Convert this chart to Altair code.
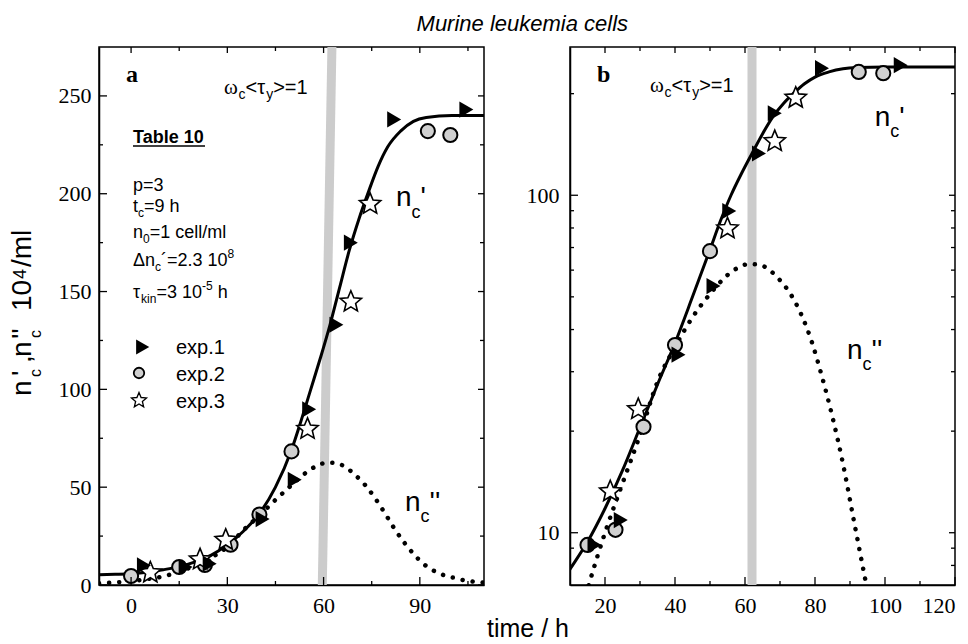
import math
import altair as alt
import pandas as pd

# ---------------- data ----------------
exp1_t = [4, 17, 24.5, 41, 51, 55.5, 64, 68.5, 82, 104.5]
exp1_n = [10, 9.2, 10.9, 33.7, 53.8, 89.8, 133, 175, 238, 243]
exp2_t = [0, 15, 23, 31, 40, 50, 92.5, 99.5]
exp2_n = [4.6, 9.2, 10.2, 20.6, 36, 68.3, 232, 230]
exp3_t = [6, 21.5, 29.5, 55, 68.5, 74.5]
exp3_n = [6.6, 13.3, 23.3, 80, 145, 195]

# n_c' (solid curve)
fit_t = [-10, -5, 0, 5, 10, 15, 20, 25, 30, 35, 40, 45, 50, 53, 56, 59, 62, 65,
         68, 71, 74, 77, 80, 84, 88, 92, 100, 110, 120]
fit_n = [5.3, 5.5, 5.8, 6.5, 7.8, 9.4, 11.8, 15.3, 20.5, 27.5, 36.5, 50, 69, 84,
         100, 116, 133, 152, 171, 187, 201, 214, 224, 232, 237, 239, 240, 240, 240]

# n_c'' (dotted curve)
dot_t = [-10, -5, 0, 5, 10, 15, 20, 25, 30, 35, 40, 45, 50, 55, 58, 61, 64, 67,
         70, 73, 76, 79, 82, 85, 88, 91, 94, 97, 100, 103, 106, 110]
dot_n = [0.9, 1.3, 2.0, 3.0, 4.4, 6.8, 10, 14, 19.5, 28, 35.5, 43.5, 51, 58, 61,
         62.5, 62.3, 60, 56, 51, 44.5, 37, 29, 22, 16, 11, 7.6, 5.3, 3.9, 2.7, 1.9, 1.2]

# omega_c <tau_y> = 1 boundary
band_a_t = [59.6, 62.6]
band_a_n = [0, 275]
band_b_t = [62]

# axis ticks / labels
xa_labels = [0, 30, 60, 90]
xa_minor = [15, 45, 75, 105]
ya_labels = [0, 50, 100, 150, 200, 250]
ya_minor = [25, 75, 125, 175, 225]
xb_labels = [20, 40, 60, 80, 100, 120]
xb_minor = [30, 50, 70, 90, 110]
yb_labels = [10, 100]
yb_minor = [8, 9, 20, 30, 40, 50, 60, 70, 80, 90, 200]

W, H = 385, 538
SANS = "Liberation Sans"
SERIF = "Liberation Serif"
DUMMY = pd.DataFrame({"d": [0]})

# five-pointed star symbol (unit box)
_pts = []
for k in range(10):
    a = math.radians(-90 + 36 * k)
    r = 1.0 if k % 2 == 0 else 0.45
    _pts.append(f"{r * math.cos(a):.3f} {r * math.sin(a) + 0.05:.3f}")
STAR = "M " + " L ".join(_pts) + " Z"

def df(t, n):
    return pd.DataFrame({"t": t, "n": n})

# ---------------- text helpers ----------------
AW = {' ': 278, "'": 191, ',': 278, '-': 333, '.': 278, '/': 278, '<': 584,
      '=': 584, '>': 584, 'a': 556, 'b': 556, 'c': 500, 'e': 556, 'h': 556,
      'i': 222, 'k': 500, 'l': 222, 'm': 833, 'n': 556, 'p': 556, 'r': 333,
      's': 500, 't': 278, 'u': 556, 'x': 500, 'y': 500, 'T': 611, 'M': 833,
      'Δ': 668, 'τ': 450, 'ω': 690, '´': 333}
BW = {'T': 611, 'l': 278, 'b': 611}

def tw(s, size, bold=False):
    tot = 0
    for ch in s:
        if ch.isdigit():
            tot += 556
        elif bold and ch in BW:
            tot += BW[ch]
        else:
            tot += AW.get(ch, 556)
    return tot * size / 1000.0

FAMS = {"s": (SANS, "normal", "normal"), "sb": (SANS, "bold", "normal"),
        "si": (SANS, "normal", "italic"), "r": (SERIF, "normal", "normal"),
        "rb": (SERIF, "bold", "normal")}

def rich(layers, x0, y0, parts, angle=0):
    """parts: (text, size, shift, fam[, at]) ; shift>0 = lower in text frame."""
    adv = 0.0
    for p in parts:
        text, size, shift, fam = p[:4]
        pos = p[4] if len(p) > 4 else adv
        lead = len(text) - len(text.lstrip(" "))
        pos += lead * 278 * size / 1000.0
        text = text.lstrip(" ")
        if angle == 0:
            px, py = x0 + pos, y0 + shift
        else:  # 270: reading bottom-to-top
            px, py = x0 + shift, y0 - pos
        font, weight, style = FAMS[fam]
        kw = dict(text=text, font=font, fontSize=size, fontWeight=weight,
                  fontStyle=style, align="left", baseline="alphabetic", color="black")
        if angle:
            kw["angle"] = angle
        layers.append(alt.Chart(DUMMY).mark_text(**kw).encode(
            x=alt.value(px), y=alt.value(py)))
        adv = pos + tw(text, size, fam == "sb")

def ticks_layers(X, Y, xmaj, xmin, ymaj, ymin):
    rl = dict(color="black", strokeWidth=1.3)
    L = []
    ym = pd.DataFrame({"n": ymaj}); yn = pd.DataFrame({"n": ymin})
    xm = pd.DataFrame({"t": xmaj}); xn = pd.DataFrame({"t": xmin})
    L.append(alt.Chart(ym).mark_rule(**rl).encode(y=Y, x=alt.value(0), x2=alt.value(8)))
    L.append(alt.Chart(yn).mark_rule(**rl).encode(y=Y, x=alt.value(0), x2=alt.value(4)))
    L.append(alt.Chart(ym).mark_rule(**rl).encode(y=Y, x=alt.value(W - 6), x2=alt.value(W)))
    L.append(alt.Chart(yn).mark_rule(**rl).encode(y=Y, x=alt.value(W - 4), x2=alt.value(W)))
    L.append(alt.Chart(xm).mark_rule(**rl).encode(x=X, y=alt.value(H), y2=alt.value(H - 8)))
    L.append(alt.Chart(xn).mark_rule(**rl).encode(x=X, y=alt.value(H), y2=alt.value(H - 4)))
    L.append(alt.Chart(xm).mark_rule(**rl).encode(x=X, y=alt.value(0), y2=alt.value(6)))
    L.append(alt.Chart(xn).mark_rule(**rl).encode(x=X, y=alt.value(0), y2=alt.value(4)))
    return L

def data_layers(X, Y):
    L = []
    L.append(alt.Chart(df(dot_t, dot_n)).mark_line(
        color="black", strokeWidth=4.5, strokeDash=[0.1, 10], strokeCap="round",
        interpolate="monotone", clip=True).encode(x=X, y=Y))
    L.append(alt.Chart(df(fit_t, fit_n)).mark_line(
        color="black", strokeWidth=3, interpolate="monotone", clip=True).encode(x=X, y=Y))
    L.append(alt.Chart(df(exp2_t, exp2_n)).mark_point(
        shape="circle", filled=True, fill="#d0d0d0", stroke="black", strokeWidth=2,
        size=200, opacity=1, clip=True).encode(x=X, y=Y))
    L.append(alt.Chart(df(exp3_t, exp3_n)).mark_point(
        shape=STAR, filled=True, fill="white", stroke="black", strokeWidth=1.6,
        size=500, opacity=1, clip=True).encode(x=X, y=Y))
    L.append(alt.Chart(df(exp1_t, exp1_n)).mark_point(
        shape="triangle-right", filled=True, color="black", size=260, opacity=1,
        clip=True).encode(x=X, y=Y))
    return L

def axis(values, orient, pad, fmt=None):
    kw = dict(values=values, orient=orient, labelFont=SERIF, labelFontSize=22,
              labelColor="black", ticks=False, domainColor="black",
              domainWidth=1.5, grid=False, title=None, labelPadding=pad)
    if fmt:
        kw["format"] = fmt
    return alt.Axis(**kw)

OMEGA = [("ω", 21, 0, "r"), ("c", 14, 5, "s"), ("<", 20, 0, "s"),
         ("τ", 20, 0, "s"), ("y", 14, 5, "s"), (">=1", 20, 0, "s")]

# ---------------- panel a ----------------
Xa = alt.X("t:Q", scale=alt.Scale(domain=[-10, 110], nice=False, zero=False),
           axis=axis(xa_labels, "bottom", 10))
Ya = alt.Y("n:Q", scale=alt.Scale(domain=[0, 275], nice=False, zero=False),
           axis=axis(ya_labels, "left", 8))

band_a = alt.Chart(df(band_a_t, band_a_n)).mark_line(
    color="#cccccc", strokeWidth=9, strokeCap="butt", clip=True).encode(x=Xa, y=Ya)

ta = []
rich(ta, 27, 35, [("a", 24, 0, "rb")])
rich(ta, 125, 47, OMEGA)
rich(ta, 34, 96, [("Table 10", 18, 0, "sb")])
rich(ta, 34, 143.7, [("p=3", 18, 0, "s")])
rich(ta, 34, 165.3, [("t", 18, 0, "s"), ("c", 12, 5, "s"), ("=9 h", 18, 0, "s")])
rich(ta, 34, 191.3, [("n", 18, 0, "s"), ("0", 12, 5, "s"), ("=1 cell/ml", 18, 0, "s")])
rich(ta, 34, 218.7, [("Δn", 18, 0, "s"), ("c", 12, 5, "s"), ("´=2.3 10", 18, 0, "s"),
                     ("8", 12, -8, "s")])
rich(ta, 34, 251, [("τ", 18, 0, "s"), ("kin", 12, 5, "s"), ("=3 10", 18, 0, "s"),
                   ("-5", 12, -8, "s"), (" h", 18, 0, "s")])
for lab, yb in [("exp.1", 307), ("exp.2", 334), ("exp.3", 361)]:
    rich(ta, 77, yb, [(lab, 20, 0, "s")])
rich(ta, 297, 158.7, [("n", 28, 0, "s"), ("c", 18, 12, "s"), ("'", 28, 0, "s")])
rich(ta, 306, 463.7, [("n", 28, 0, "s"), ("c", 18, 11, "s"), ("''", 28, 0, "s")])
rich(ta, -68, 349, [("n", 28, 0, "s", 0), ("c", 16, 10, "s", 19), ("'", 28, 0, "s", 20),
                    (",", 28, 0, "s", 33), ("n", 28, 0, "s", 39), ("c", 16, 10, "s", 58),
                    ("''", 28, 0, "s", 57), ("10", 28, 0, "s", 85), ("4", 18, -5, "s", 117),
                    ("/ml", 28, 0, "s", 129)], angle=270)

ul_w = tw("Table 10", 18, True)
underline = alt.Chart(DUMMY).mark_rule(color="black", strokeWidth=1.5).encode(
    x=alt.value(34), x2=alt.value(34 + ul_w), y=alt.value(99))
leg_tri = alt.Chart(DUMMY).mark_point(
    shape="triangle-right", filled=True, color="black", size=230, opacity=1).encode(
    x=alt.value(43.7), y=alt.value(300))
leg_cir = alt.Chart(DUMMY).mark_point(
    shape="circle", filled=True, fill="#d0d0d0", stroke="black", strokeWidth=1.8,
    size=110, opacity=1).encode(x=alt.value(40), y=alt.value(326))
leg_star = alt.Chart(DUMMY).mark_point(
    shape=STAR, filled=True, fill="white", stroke="black", strokeWidth=1.3,
    size=250, opacity=1).encode(x=alt.value(40), y=alt.value(353))

panel_a = alt.layer(band_a, *data_layers(Xa, Ya),
                    *ticks_layers(Xa, Ya, xa_labels, xa_minor, ya_labels, ya_minor),
                    underline, leg_tri, leg_cir, leg_star, *ta
                    ).properties(width=W, height=H)

# ---------------- panel b ----------------
Xb = alt.X("t:Q", scale=alt.Scale(domain=[10, 120], nice=False, zero=False),
           axis=axis(xb_labels, "bottom", 10))
Yb = alt.Y("n:Q", scale=alt.Scale(type="log", domain=[7, 275], nice=False),
           axis=axis(yb_labels, "left", 11, "d"))

band_b = alt.Chart(pd.DataFrame({"t": band_b_t})).mark_rule(
    color="#cccccc", strokeWidth=9).encode(x=Xb)
tb = []
rich(tb, 27, 35, [("b", 24, 0, "rb")])
rich(tb, 80, 45, OMEGA)
rich(tb, 304.7, 78.7, [("n", 28, 0, "s"), ("c", 18, 11, "s"), ("'", 28, 0, "s")])
rich(tb, 277, 312, [("n", 28, 0, "s"), ("c", 18, 11, "s"), ("''", 28, 0, "s")])
xt = "time / h"
rich(tb, -42 - tw(xt, 25) / 2, 590, [(xt, 25, 0, "s")])

panel_b = alt.layer(band_b, *data_layers(Xb, Yb),
                    *ticks_layers(Xb, Yb, xb_labels, xb_minor, yb_labels, yb_minor),
                    *tb).properties(width=W, height=H)

title = alt.TitleParams("Murine leukemia cells", font=SANS, fontSize=22,
                        fontStyle="italic", fontWeight="normal", color="black",
                        anchor="middle", dx=40, offset=6)

chart = alt.hconcat(panel_a, panel_b, spacing=0, title=title).properties(
    padding={"left": 8, "top": 12, "right": 5, "bottom": 0}, background="white"
).configure_view(stroke="black", strokeWidth=1.5)

chart.save("out.html", embed_options={"renderer": "svg", "actions": False})
